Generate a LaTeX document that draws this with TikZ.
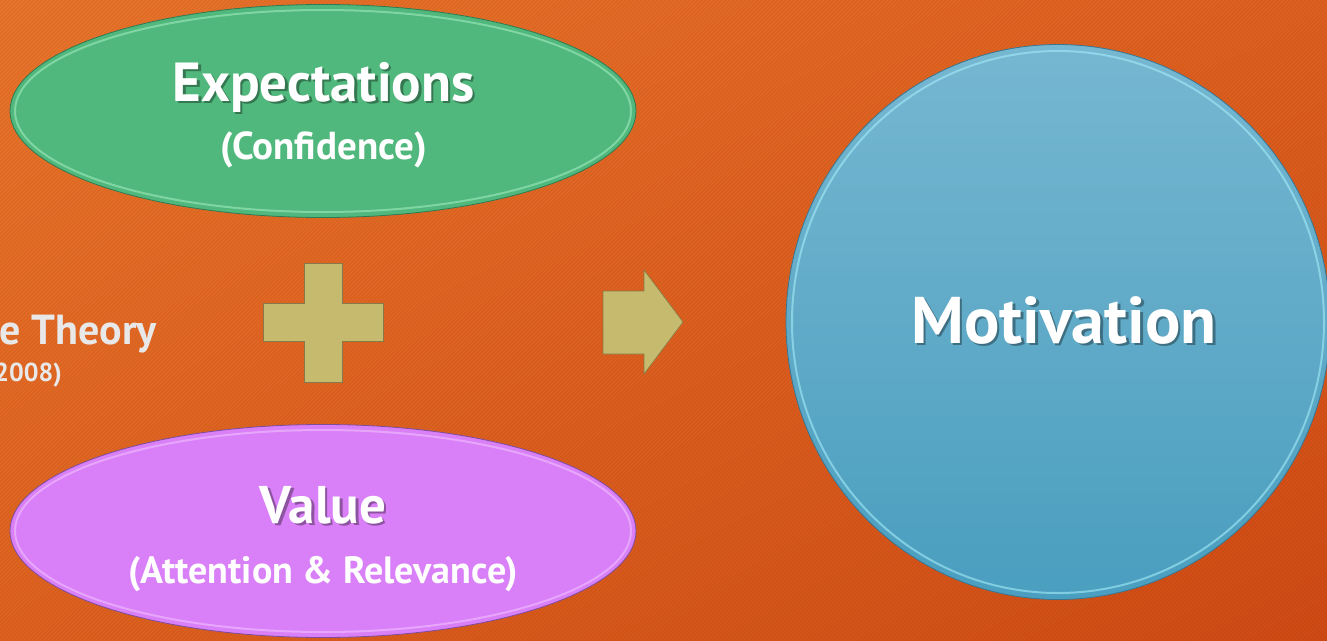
\documentclass[tikz,border=0pt]{standalone}
\usepackage{fontspec}
\setmainfont{PT Sans}
\usetikzlibrary{shapes.geometric,shadings}
\definecolor{bgTL}{HTML}{E8742B}
\definecolor{bgTR}{HTML}{DE601F}
\definecolor{bgBL}{HTML}{DE621F}
\definecolor{bgBR}{HTML}{D04A15}
\definecolor{greenFill}{HTML}{50B87C}
\definecolor{greenEdge}{HTML}{2F7A52}
\definecolor{greenRim}{HTML}{A6EFC4}
\definecolor{violetFill}{HTML}{D980F8}
\definecolor{violetEdge}{HTML}{7E4C9C}
\definecolor{violetRim}{HTML}{F4C4FF}
\definecolor{blueTop}{HTML}{76B7D1}
\definecolor{blueBot}{HTML}{4A9EBF}
\definecolor{blueEdge}{HTML}{3A7590}
\definecolor{blueRim}{HTML}{A4ECF8}
\definecolor{khaki}{HTML}{C6BA6E}
\definecolor{khakiEdge}{HTML}{857A48}
\definecolor{paleText}{HTML}{E8E8E8}
\tikzset{
  blob/.style={ellipse, inner sep=0pt, line width=0.8pt},
  headline/.style={text=white, font=\bfseries\fontsize{#1}{#1}\selectfont, inner sep=0pt, anchor=base},
  headshadow/.style={text=black, opacity=0.35, font=\bfseries\fontsize{#1}{#1}\selectfont, inner sep=0pt, anchor=base},
  subline/.style={text=white, font=\bfseries\fontsize{#1}{#1}\selectfont, inner sep=0pt, anchor=base},
  sidetext/.style={text=paleText, font=\bfseries\fontsize{#1}{#1}\selectfont, inner sep=0pt, anchor=base east},
  glyph/.style={fill=khaki, draw=khakiEdge, line width=0.6pt, line join=miter}
}
\begin{document}
\begin{tikzpicture}[x=1pt,y=-1pt]
% background with diagonal hairline stripes
\useasboundingbox (0,0) rectangle (1327,640);
\shade[upper left=bgTL, upper right=bgTR, lower left=bgBL, lower right=bgBR] (0,0) rectangle (1327,640);
\begin{scope}
  \clip (0,0) rectangle (1327,640);
  \foreach \i in {-660,-656,...,1330}
    \draw[black, opacity=0.055, line width=1pt] (\i,650) -- (\i+650,0);
\end{scope}

% partly visible side caption
\node[sidetext=42] (theory) at (157,344) {e Theory};
\node[sidetext=26] (year) at (62,381) {(2008)};

% expectations ellipse
\node[blob, minimum width=626pt, minimum height=213pt, fill=greenFill, draw=greenEdge] (expect) at (323,111) {};
\draw[greenRim, opacity=0.55, line width=2pt] (323,111) ellipse [x radius=308pt, y radius=101pt];
\node[headshadow=55] (expectS) at (326,103.5) {Expectations};
\node[headline=55] (expectT) at (323.5,101) {Expectations};
\node[subline=39] (confid) at (323.5,159) {(Confidence)};

% value ellipse
\node[blob, minimum width=626pt, minimum height=213pt, fill=violetFill, draw=violetEdge] (value) at (323,531) {};
\draw[violetRim, opacity=0.55, line width=2pt] (323,531) ellipse [x radius=308pt, y radius=101pt];
\node[headshadow=53] (valueS) at (325.5,525.5) {Value};
\node[headline=53] (valueT) at (323,523) {Value};
\node[subline=38] (attrel) at (323.5,583) {(Attention \& Relevance)};

% plus sign
\draw[glyph] (304,263) -- (342,263) -- (342,303) -- (383,303) -- (383,341) -- (342,341)
  -- (342,382) -- (304,382) -- (304,341) -- (263,341) -- (263,303) -- (304,303) -- cycle;

% block arrow
\draw[glyph] (603,291) -- (644,291) -- (644,270) -- (683,322) -- (644,374) -- (644,354)
  -- (603,354) -- cycle;

% motivation circle
\node[blob, minimum width=544pt, minimum height=555pt, top color=blueTop, bottom color=blueBot, draw=blueEdge] (motiv) at (1058,322) {};
\draw[blueRim, opacity=0.6, line width=2pt] (1058,322) ellipse [x radius=266pt, y radius=271pt];
\node[headshadow=66] (motivS) at (1066.5,345.5) {Motivation};
\node[headline=66] (motivT) at (1064,343) {Motivation};
\end{tikzpicture}
\end{document}
